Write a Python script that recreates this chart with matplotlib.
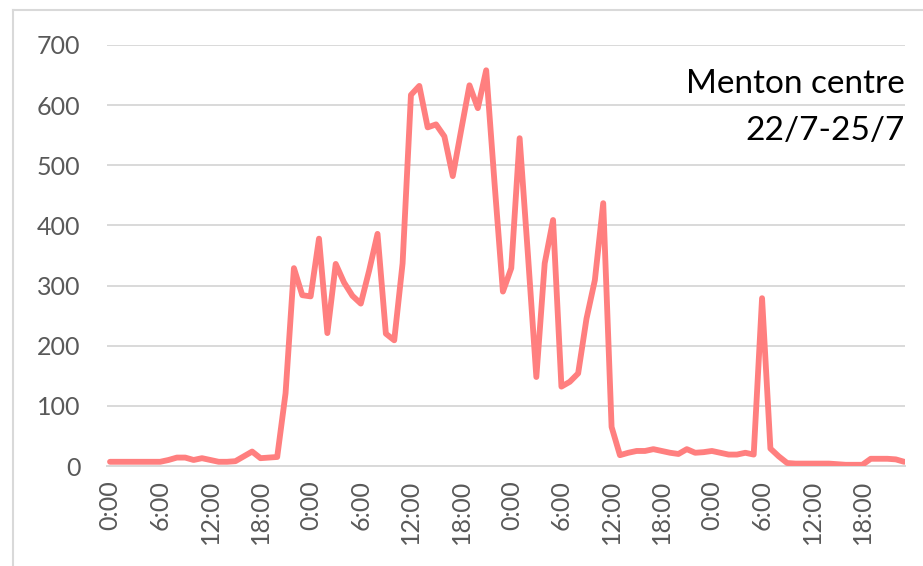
import matplotlib.pyplot as plt
from matplotlib.lines import Line2D

# hourly counts 22/7 0:00 .. 25/7 23:00
hours = list(range(96))
counts = [
    7, 7, 7, 7, 7, 7, 7, 10, 14, 14, 10, 13, 10, 7, 7, 8, 16, 24, 13, 14, 15, 121, 329, 284,
    282, 378, 221, 336, 305, 283, 270, 325, 386, 220, 209, 337, 617, 632, 563, 568, 548, 482, 558, 633, 595, 658, 470, 290,
    329, 545, 350, 148, 337, 409, 132, 140, 154, 245, 309, 437, 65, 18, 22, 25, 25, 28, 25, 22, 20, 28, 22, 23,
    25, 22, 19, 19, 22, 19, 279, 29, 16, 5, 4, 4, 4, 4, 4, 3, 2, 2, 2, 12, 12, 12, 11, 7,
]
tick_pos = list(range(0, 96, 6))
tick_labels = ["0:00", "6:00", "12:00", "18:00"] * 4
title_lines = ["Menton centre", "22/7-25/7"]

plt.rcParams['font.family'] = ['Lato', 'DejaVu Sans']

fig = plt.figure(figsize=(9.23, 5.66), dpi=100)
ax = fig.add_axes([107 / 923, 1 - 466 / 566, (905 - 107) / 923, (466 - 45) / 566])

ax.plot(hours, counts, color='#FF7F7F', lw=4.2, solid_joinstyle='round', solid_capstyle='round', zorder=3)

ax.set_xlim(-0.36, 95.1)
ax.set_ylim(0, 700)
ax.set_yticks(range(0, 701, 100))
ax.set_xticks(tick_pos)
ax.set_xticklabels(tick_labels, rotation=90, va='top', ha='center')

ax.grid(axis='y', color='#d9d9d9', lw=1.4)
ax.grid(axis='x', visible=False)
ax.set_axisbelow(True)
for s in ['top', 'right', 'left']:
    ax.spines[s].set_visible(False)
ax.spines['bottom'].set_color('#d9d9d9')
ax.spines['bottom'].set_linewidth(1.4)

ax.tick_params(axis='y', length=0, pad=19, labelsize=18, labelcolor='#595959')
ax.tick_params(axis='x', length=0, pad=10, labelsize=18, labelcolor='#595959')

# title, one line at a time (baselines)
for txt, base in zip(title_lines, [93, 140]):
    fig.text(905 / 923, 1 - base / 566, txt, ha='right', va='baseline', fontsize=24, color='black')

# chart border (left + top)
fig.add_artist(Line2D([13 / 923, 13 / 923], [0, 1 - 10 / 566], transform=fig.transFigure, color='#d9d9d9', lw=1.5))
fig.add_artist(Line2D([13 / 923, 1], [1 - 10 / 566, 1 - 10 / 566], transform=fig.transFigure, color='#d9d9d9', lw=1.5))

fig.savefig('out.png', dpi=100)
